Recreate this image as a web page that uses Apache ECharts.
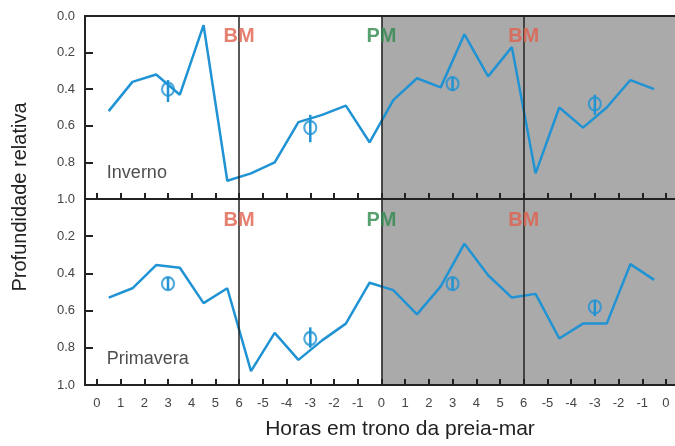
<!DOCTYPE html>
<html>
<head>
<meta charset="utf-8">
<script src="https://cdn.jsdelivr.net/npm/echarts@6/dist/echarts.min.js"></script>
<style>
  html, body { margin: 0; padding: 0; background: #fff; }
  #main { width: 675px; height: 446px; }
</style>
</head>
<body>
<div id="main"></div>
<script>
// horas (meias horas) onde a linha tem vertices
var hours = [0.5, 1.5, 2.5, 3.5, 4.5, 5.5, 6.5, 7.5, 8.5, 9.5, 10.5, 11.5,
             12.5, 13.5, 14.5, 15.5, 16.5, 17.5, 18.5, 19.5, 20.5, 21.5, 22.5, 23.5];
var invernoDepth = [0.52, 0.36, 0.32, 0.43, 0.05, 0.90, 0.86, 0.80, 0.58, 0.54, 0.49, 0.69,
                    0.46, 0.34, 0.39, 0.10, 0.33, 0.17, 0.86, 0.50, 0.61, 0.50, 0.35, 0.40];
var primaveraDepth = [0.53, 0.48, 0.355, 0.37, 0.56, 0.48, 0.925, 0.72, 0.865, 0.76, 0.67, 0.45,
                      0.49, 0.62, 0.47, 0.24, 0.41, 0.53, 0.51, 0.75, 0.67, 0.67, 0.35, 0.435];

// medias com barras de erro
var meanHours = [3, 9, 15, 21];
var invernoMean = [0.40, 0.61, 0.37, 0.48];
var invernoLow = [0.35, 0.54, 0.33, 0.43];
var invernoHigh = [0.47, 0.69, 0.41, 0.54];
var primaveraMean = [0.455, 0.75, 0.455, 0.58];
var primaveraLow = [0.42, 0.69, 0.42, 0.545];
var primaveraHigh = [0.49, 0.80, 0.49, 0.63];

// eixo x
var tickHours = [0, 1, 2, 3, 4, 5, 6, 7, 8, 9, 10, 11, 12, 13, 14, 15, 16, 17, 18, 19, 20, 21, 22, 23, 24];
var tickLabels = ['0', '1', '2', '3', '4', '5', '6', '-5', '-4', '-3', '-2', '-1',
                  '0', '1', '2', '3', '4', '5', '6', '-5', '-4', '-3', '-2', '-1', '0'];
var depthTicks = [0, 0.2, 0.4, 0.6, 0.8, 1.0];

// mares
var tideHours = [6, 12, 18];
var tideNames = ['BM', 'PM', 'BM'];
var panelNames = ['Inverno', 'Primavera'];

var BLUE = '#2093d4';
var AXIS = '#222';
var FONT = 'Liberation Sans';
var xMin = -0.5, xMax = 24.38;

var myChart = echarts.init(document.getElementById('main'));

function xAxisFor(idx, showLabels) {
  return {
    type: 'value', gridIndex: idx, min: xMin, max: xMax, z: 10,
    axisLine: { show: true, onZero: false, lineStyle: { color: AXIS, width: 2 } },
    axisTick: { show: true, inside: true, length: 6, customValues: tickHours,
                lineStyle: { color: AXIS, width: 2 } },
    axisLabel: { show: showLabels, customValues: tickHours, margin: 12,
                 color: '#444', fontSize: 13, fontFamily: FONT,
                 formatter: function (v) { return tickLabels[tickHours.indexOf(Math.round(v))]; } },
    splitLine: { show: false }
  };
}
function topBorder(idx) {
  return {
    type: 'value', gridIndex: idx, position: 'top', min: xMin, max: xMax, z: 10,
    axisLine: { show: true, onZero: false, lineStyle: { color: AXIS, width: 2 } },
    axisTick: { show: false }, axisLabel: { show: false }, splitLine: { show: false }
  };
}
function yAxisFor(idx, hideZero) {
  return {
    type: 'value', gridIndex: idx, inverse: true, min: 0, max: 1, interval: 0.2, z: 10,
    axisLine: { show: true, onZero: false, lineStyle: { color: AXIS, width: 2 } },
    axisTick: { show: true, inside: true, length: 8, lineStyle: { color: AXIS, width: 2 } },
    axisLabel: { color: '#444', fontSize: 13, fontFamily: FONT, margin: 10,
                 formatter: function (v) { return (hideZero && v === 0) ? '' : v.toFixed(1); } },
    splitLine: { show: false }
  };
}

function panelSeries(idx, depth, mean, low, high) {
  var xa = idx * 2; // bottom axis index for this grid
  var list = [];
  // fundo cinzento + linhas verticais
  list.push({
    type: 'line', xAxisIndex: xa, yAxisIndex: idx, data: [], silent: true, z: 1,
    markArea: { silent: true, itemStyle: { color: '#aaaaaa' },
                data: [[{ xAxis: tideHours[1] }, { xAxis: xMax }]] },
    markLine: { silent: true, symbol: 'none', label: { show: false },
                lineStyle: { color: AXIS, width: 1.5, type: 'solid' },
                data: tideHours.map(function (h) { return { xAxis: h }; }) }
  });
  list.push({
    type: 'line', xAxisIndex: xa, yAxisIndex: idx, z: 3,
    data: hours.map(function (h, i) { return [h, depth[i]]; }),
    showSymbol: false, lineStyle: { color: BLUE, width: 2.5 }
  });
  list.push({
    type: 'custom', xAxisIndex: xa, yAxisIndex: idx, z: 4,
    data: meanHours.map(function (h, i) { return [h, low[i], high[i]]; }),
    renderItem: function (params, api) {
      var p1 = api.coord([api.value(0), api.value(1)]);
      var p2 = api.coord([api.value(0), api.value(2)]);
      return { type: 'line', shape: { x1: p1[0], y1: p1[1], x2: p2[0], y2: p2[1] },
               style: { stroke: BLUE, lineWidth: 2.5 } };
    }
  });
  list.push({
    type: 'scatter', xAxisIndex: xa, yAxisIndex: idx, z: 4,
    data: meanHours.map(function (h, i) { return [h, mean[i]]; }),
    symbol: 'circle', symbolSize: [12, 13],
    itemStyle: { color: 'rgba(0,0,0,0)', borderColor: BLUE, borderWidth: 2.2 }
  });
  // BM / PM
  list.push({
    type: 'scatter', xAxisIndex: xa, yAxisIndex: idx, z: 5, symbolSize: 0, silent: true,
    data: tideHours.map(function (h, i) { return { value: [h, 0.113], name: tideNames[i] }; }),
    label: { show: true, position: 'inside', fontSize: 20, fontWeight: 'bold', fontFamily: FONT,
             formatter: '{b}',
             color: function (p) { return p.name === 'PM' ? '#2f8a4e' : '#e0604c'; } }
  });
  // nome do painel
  list.push({
    type: 'scatter', xAxisIndex: xa, yAxisIndex: idx, z: 5, symbolSize: 0, silent: true,
    data: [{ value: [0, 0.86], name: panelNames[idx] }],
    label: { show: true, position: 'right', distance: 10, fontSize: 18, fontFamily: FONT,
             color: '#222', formatter: '{b}' }
  });
  return list;
}

// corrige a cor do rotulo por item
function fixTideColors(series) {
  series.forEach(function (s) {
    if (s.type === 'scatter' && s.data.length === 3 && s.data[0].name) {
      s.data.forEach(function (d) {
        d.label = { color: d.name === 'PM' ? '#2f8a4e' : '#e0604c' };
      });
      s.label.color = '#e0604c';
    }
  });
  return series;
}

var option = {
  animation: false,
  backgroundColor: '#fff',
  grid: [
    { left: 85, top: 16, width: 593, height: 183 },
    { left: 85, top: 199, width: 593, height: 186 }
  ],
  xAxis: [xAxisFor(0, false), topBorder(0), xAxisFor(1, true), topBorder(1)],
  yAxis: [yAxisFor(0, false), yAxisFor(1, true)],
  series: fixTideColors(
    panelSeries(0, invernoDepth, invernoMean, invernoLow, invernoHigh)
      .concat(panelSeries(1, primaveraDepth, primaveraMean, primaveraLow, primaveraHigh))),
  graphic: [
    { type: 'text', x: 20, y: 197, rotation: Math.PI / 2,
      style: { text: 'Profundidade relativa', fontSize: 20, fontFamily: FONT, fill: '#222',
               textAlign: 'center', textVerticalAlign: 'middle' } },
    { type: 'text', x: 400, y: 429,
      style: { text: 'Horas em trono da preia-mar', fontSize: 21, fontFamily: FONT, fill: '#222',
               textAlign: 'center', textVerticalAlign: 'middle' } }
  ]
};
myChart.setOption(option);
</script>
</body>
</html>
